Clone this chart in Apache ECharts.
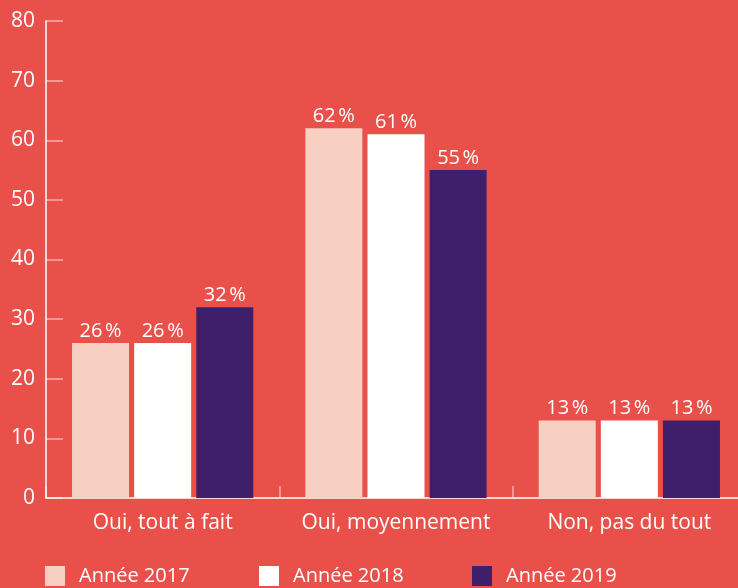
<!DOCTYPE html>
<html>
<head>
<meta charset="utf-8">
<script src="https://cdn.jsdelivr.net/npm/echarts@6/dist/echarts.min.js"></script>
<style>
html, body { margin: 0; padding: 0; background: #E9504A; }
#main { width: 738px; height: 588px; }
</style>
</head>
<body>
<div id="main"></div>
<script>
// catégories et valeurs (%)
var categories = ['Oui, tout à fait', 'Oui, moyennement', 'Non, pas du tout'];
var annee2017 = [26, 62, 13];
var annee2018 = [26, 61, 13];
var annee2019 = [32, 55, 13];
var seriesNames = ['Année 2017', 'Année 2018', 'Année 2019'];
var colors = ['#F8CFC3', '#FFFFFF', '#3F1F69'];

var font = 'Open Sans';
var chart = echarts.init(document.getElementById('main'));

function bar(name, data, color) {
	return {
		name: name,
		type: 'bar',
		data: data,
		barWidth: 57,
		barGap: '9%',
		itemStyle: { color: color },
		label: {
			show: true,
			position: 'top',
			distance: 2,
			color: '#fff',
			fontSize: 20,
			fontFamily: font,
			formatter: function (p) { return p.value + '\u202F%'; }
		}
	};
}

function legendItem(i, left) {
	return {
		data: [seriesNames[i]],
		left: left,
		top: 566,
		padding: 0,
		itemWidth: 20,
		itemHeight: 20,
		icon: 'rect',
		textStyle: { color: '#fff', fontSize: 20, fontFamily: font, padding: [2, 0, 0, 9] }
	};
}

var option = {
	backgroundColor: '#E9504A',
	animation: false,
	color: colors,
	grid: { left: 46, right: -8, top: 21, bottom: 90, outerBoundsMode: 'none', containLabel: false },
	legend: [legendItem(0, 45), legendItem(1, 259), legendItem(2, 472)],
	xAxis: {
		type: 'category',
		data: categories,
		axisLine: { lineStyle: { color: '#fff', width: 1.5 } },
		axisTick: { show: true, inside: true, length: 12, lineStyle: { color: 'rgba(255,255,255,0.55)', width: 1.5 } },
		axisLabel: { color: '#fff', fontSize: 21, fontFamily: font, margin: 15, interval: 0 }
	},
	yAxis: {
		type: 'value',
		min: 0,
		max: 80,
		interval: 10,
		splitLine: { show: false },
		axisLine: { show: true, lineStyle: { color: '#fff', width: 1.5 } },
		axisTick: { show: true, inside: true, length: 17, lineStyle: { color: 'rgba(255,255,255,0.55)', width: 1.5 } },
		axisLabel: { color: '#fff', fontSize: 21, fontFamily: font, margin: 11 }
	},
	series: [
		bar(seriesNames[0], annee2017, colors[0]),
		bar(seriesNames[1], annee2018, colors[1]),
		bar(seriesNames[2], annee2019, colors[2])
	]
};
chart.setOption(option);
</script>
</body>
</html>
